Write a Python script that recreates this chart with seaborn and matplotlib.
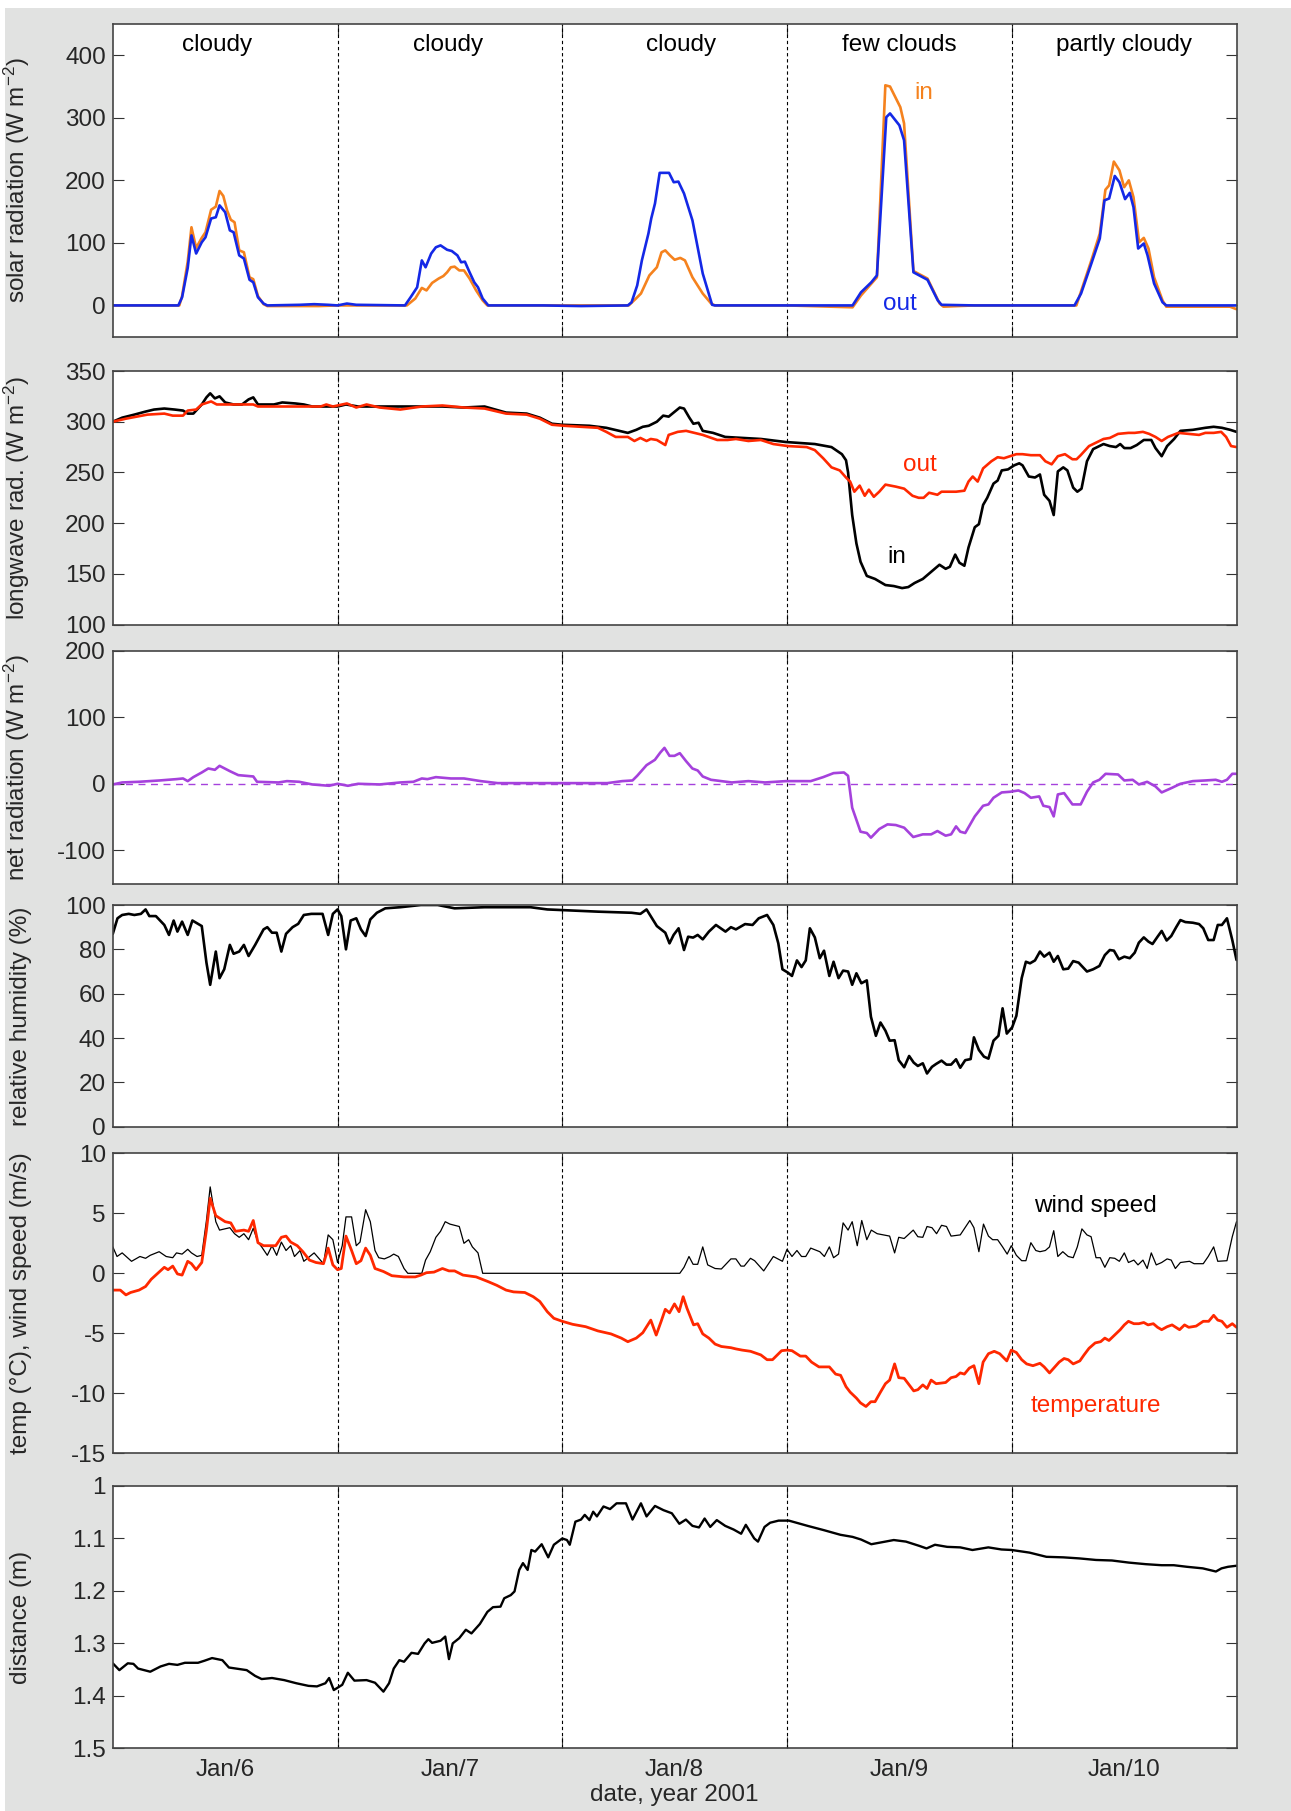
import matplotlib
matplotlib.use("Agg")
import matplotlib.pyplot as plt
import seaborn as sns
from matplotlib.patches import Rectangle
from matplotlib.ticker import FixedLocator, NullFormatter, FixedFormatter

# ---------------- data (time in hours since start of Jan 5/6 window) -------------
solar_in = [(0,0),(7.1,0),(7.4,15),(8,70),(8.4,125),(8.9,92),(9.5,108),(9.9,117),(10.5,153),(11,158),
            (11.4,183),(11.8,175),(12.2,152),(12.6,137),(13,133),(13.5,88),(14,85),(14.6,45),(15,42),
            (15.5,15),(16.1,2),(16.5,-1),(22,-1),(24,0),(31.4,0),(32.3,11),(33,28),(33.5,24),(34.1,36),
            (34.8,43),(35.3,47),(35.7,53),(36.1,61),(36.5,62),(37,56),(37.5,56),(38.1,43),(38.8,24),
            (39.5,8),(40,0),(55.1,0),(55.8,10),(56.4,19),(57.3,48),(58.1,61),(58.6,85),(59,88),(59.5,80),
            (60,73),(60.6,76),(61.1,72),(61.9,45),(63,19),(63.9,3),(64.3,0),(72,0),(79,-3),(79.9,16),
            (81.6,45),(82.5,352),(83,350),(84.1,317),(84.5,291),(85.5,55),(87,43),(88.3,3),(88.7,-2),
            (92,0),(102.9,0),(104.5,72),(105.4,115),(106,185),(106.4,192),(106.9,230),(107.5,216),
            (108,189),(108.5,200),(109,173),(109.6,101),(110.1,108),(110.6,91),(111.2,45),(112.1,8),
            (112.5,-2),(119.3,-2),(120,-6)]
solar_out = [(0,0),(7.0,0),(7.4,13),(8.0,60),(8.4,112),(8.9,83),(9.5,101),(9.9,109),(10.5,139),(11.0,141),
             (11.4,160),(12.0,149),(12.5,120),(12.9,117),(13.5,80),(14.0,75),(14.6,41),(15.0,37),
             (15.5,13),(16.1,3),(16.5,0),(20,1),(21.5,2),(23,1),(24,0),(25,3),(26,1),(31.2,0),(31.8,13),
             (32.5,29),(33.0,72),(33.4,61),(34.0,83),(34.5,93),(35.0,96),(35.7,89),(36.2,87),(36.8,80),
             (37.2,69),(37.6,70),(38.1,53),(38.6,37),(39.0,29),(39.5,11),(40.1,0),(46,0),(50,-1),(55.0,0),
             (55.4,5),(56.0,32),(56.5,72),(57.2,115),(57.5,139),(57.9,163),(58.4,212),(59.4,212),
             (59.9,197),(60.4,198),(61.0,179),(61.9,136),(63.0,51),(64.0,1),(64.3,0),(70,0),(79.0,0),
             (79.9,21),(81.0,37),(81.6,48),(82.6,301),(83.0,307),(84.0,288),(84.5,264),(85.5,53),
             (87.0,41),(88.1,8),(88.5,1),(92,0),(102.7,0),(103.4,19),(104.5,67),(105.4,107),(105.9,168),
             (106.4,171),(107.0,207),(107.5,197),(108.1,170),(108.6,180),(109.0,157),(109.5,91),
             (110.1,99),(110.5,80),(111.2,35),(112.1,5),(112.5,0),(120,0)]

lw_in = [(0,300),(1,304),(2.3,307),(3.5,310),(4.4,312),(5.5,313),(6.6,312),(7.5,311),(8,308),(8.6,308),
         (9.5,317),(10,324),(10.4,328),(10.9,323),(11.4,325),(12,319),(12.9,317),(13.8,317),(14.5,322),
         (15,324),(15.5,317),(17.2,317),(18.1,319),(19.5,318),(20.4,317),(21.3,315),(24,315),(24.9,317),
         (26.2,315),(28.5,315),(33,315),(35.2,315),(37.5,314),(39.7,315),(42,309),(44.2,308),(45.6,304),
         (46.9,298),(48,297),(50.9,296),(52.7,294),(55,289),(55.9,292),(56.6,295),(57.23,296),(58.1,300),
         (58.78,306),(59.36,305),(59.89,309),(60.55,314),(61.0,313),(61.57,304),(62.0,298),(62.55,299),
         (63.0,291),(64.1,289),(65.4,285),(67.4,284),(69.2,283),(71.87,280),(74.97,278),(76.75,275),
         (77.86,268),(78.3,262),(78.52,250),(78.96,208),(79.41,180),(79.85,162),(80.52,148),(81.4,145),
         (82.51,139),(83.4,138),(84.29,136),(84.95,137),(85.62,141),(86.5,145),(87.39,152),(88.28,159),
         (88.94,155),(89.39,157),(89.96,169),(90.41,161),(90.94,158),(91.38,176),(92.05,196),(92.49,199),
         (92.94,218),(93.38,225),(94.05,239),(94.49,242),(94.93,252),(95.6,253),(96.26,257),(96.8,259),
         (97.15,257),(97.82,246),(98.48,245),(99.01,248),(99.46,228),(100.03,222),(100.48,208),
         (100.92,251),(101.5,255),(101.94,252),(102.56,235),(103.0,231),(103.45,234),(104.03,261),
         (104.69,273),(105.8,278),(106.47,276),(107.13,275),(107.58,278),(108.02,274),(108.69,274),
         (109.35,277),(110.1,282),(110.9,282),(111.35,274),(112.01,266),(112.59,276),(113.34,283),
         (114.01,291),(115.34,292),(116.67,294),(117.56,295),(118.44,294),(119.33,292),(120,290)]
lw_out = [(0,300),(1.4,303),(3.7,307),(5.5,308),(6.4,306),(7.5,306),(8,311),(8.9,312),(9.5,317),(10.5,320),
          (11.1,317),(12.3,317),(14,317),(15,317),(15.5,315),(19.5,315),(22.2,315),(22.8,317),(23.5,315),
          (25,318),(26,314),(27.1,317),(28.5,314),(30.7,312),(33,315),(35.2,316),(37.5,314),(39.7,313),
          (42,308),(44.2,307),(45.6,303),(46.9,297),(48.2,296),(51.8,294),(52.7,290),(53.7,285),(55,285),
          (55.7,281),(56.34,284),(57.0,281),(57.45,283),(58.1,282),(59.0,277),(59.36,287),(60.33,290),
          (61.22,291),(62.11,289),(63.0,287),(64.55,282),(65.66,282),(66.54,283),(67.87,281),(69.2,282),
          (70.54,278),(72.09,276),(74.1,275),(74.97,272),(75.86,264),(76.75,255),(77.63,252),(78.3,245),
          (78.74,241),(79.19,231),(79.76,237),(80.3,227),(80.74,233),(81.27,226),(81.85,231),(82.51,238),
          (83.62,236),(84.51,234),(85.4,227),(86.06,225),(86.59,225),(87.17,230),(88.06,228),(88.5,231),
          (90.05,231),(90.94,232),(91.38,241),(91.83,246),(92.36,241),(92.94,254),(93.82,261),(94.49,265),
          (95.16,264),(95.82,266),(96.49,268),(97.15,268),(98.04,267),(99.01,267),(99.59,261),(100.26,258),
          (100.92,266),(101.68,268),(102.48,263),(102.92,263),(103.36,267),(104.25,276),(105.14,280),
          (105.8,283),(106.47,284),(107.35,288),(108.46,289),(109.13,289),(110.01,290),(110.68,288),
          (111.35,285),(112.01,281),(112.68,285),(113.79,289),(114.9,288),(116.0,287),(116.67,289),
          (117.56,289),(118.36,290),(118.89,285),(119.42,276),(120,275)]

net_rad = [(0,-1),(1,2),(2.8,3),(5,5),(6.8,7),(7.5,8),(8,4),(8.6,10),(9.5,17),(10.2,23),(10.9,21),(11.4,27),
           (12.5,19),(13.4,13),(15,11),(15.4,3),(17.7,2),(18.6,4),(19.9,3),(21.3,-1),(23.1,-3),(24,0),
           (25.1,-3),(26.2,0),(28.5,-1),(30.7,2),(32.1,3),(33,8),(33.6,7),(34.5,10),(36.1,8),(37.5,8),
           (39.3,4),(41.1,1),(46.5,1),(48,1),(52.8,1),(54.4,4),(55.5,5),(56.0,12),(57.0,28),(57.89,36),
           (58.47,47),(58.91,54),(59.45,42),(59.98,42),(60.55,46),(61.22,34),(61.89,23),(62.46,20),
           (63.0,11),(63.88,6),(66.1,2),(67.87,4),(69.65,2),(71.87,4),(74.53,4),(75.86,10),(76.97,16),
           (78.08,17),(78.52,12),(78.96,-36),(79.85,-72),(80.52,-74),(80.96,-81),(81.85,-68),(82.73,-61),
           (83.62,-62),(84.51,-66),(85.48,-80),(86.5,-76),(87.39,-76),(88.06,-71),(88.94,-78),(89.52,-76),
           (90.05,-64),(90.5,-72),(91.03,-74),(92.05,-49),(92.94,-33),(93.51,-31),(94.05,-21),(94.93,-13),
           (95.82,-12),(96.71,-10),(97.37,-14),(98.04,-21),(98.93,-19),(99.37,-33),(100.03,-35),
           (100.48,-49),(100.92,-16),(101.59,-14),(102.48,-31),(103.36,-31),(104.03,-12),(104.69,2),
           (105.36,6),(106.02,15),(107.35,14),(108.02,5),(108.91,6),(109.57,-1),(110.46,3),(111.35,-4),
           (112.01,-13),(113.12,-6),(114.01,0),(115.34,4),(116.67,5),(117.78,6),(118.44,3),(118.98,6),
           (119.55,15),(120,15)]

rel_hum = [(0,87),(0.5,94),(1,95.5),(1.7,96),(2.3,95.5),(3,96),(3.5,98),(3.9,95),(4.6,95),(5.5,91),(6,86.5),
           (6.5,93),(6.9,88),(7.4,92.5),(8,86.5),(8.5,93),(9.5,90.5),(10,74),(10.4,64),(11,79),(11.4,67),
           (11.9,71),(12.5,82),(12.9,78),(13.5,79),(14,82),(14.5,77),(15.2,82),(16.1,89),(16.5,90),(17,87.5),
           (17.5,87.5),(18,79),(18.5,87),(19.2,90),(19.8,91.5),(20.4,95.5),(21.2,96),(22.4,96),(23,86.5),
           (23.5,96),(24,98),(24.4,95),(24.9,80),(25.4,93),(26,94),(26.5,89),(27,86),(27.5,93.5),(28.2,96.5),
           (29.1,98.5),(30.7,99),(32.9,100),(34.7,100),(36.5,98.5),(39.7,99),(44.6,99),(46.4,98),(48,97.7),
           (51.8,97),(55.4,96.5),(56.34,96),(57.0,98),(58.1,90.5),(59.0,87.5),(59.45,82.7),(59.89,86.5),
           (60.42,89.5),(61.0,79.7),(61.44,85.7),(61.97,85.3),(62.46,86.5),(63.0,84.5),(63.66,88),(64.41,91),
           (65.43,88),(66.01,90),(66.54,89),(67.52,91.4),(68.32,91),(68.98,94),(69.87,95.5),(70.54,91),
           (71.07,82.7),(71.51,71),(72.09,69.5),(72.53,68),(73.06,75),(73.55,72),(74.0,75),(74.44,89.5),
           (74.97,85.4),(75.5,76),(75.95,79.4),(76.52,68),(76.97,74.4),(77.5,67),(77.99,70.4),(78.52,70),
           (78.96,64),(79.41,69.2),(79.94,64.7),(80.52,66),(80.96,49.6),(81.49,41),(81.98,47),(82.51,43.3),
           (82.96,38.8),(83.49,39),(83.93,30),(84.51,26.8),(85.04,31.9),(85.53,28.9),(85.97,27.4),(86.5,28.6),
           (86.95,24),(87.48,27),(87.92,28.3),(88.5,29.8),(89.03,28),(89.52,28),(90.05,30.4),(90.5,26.6),
           (91.03,30),(91.61,30.5),(91.96,40.3),(92.49,34.6),(93.03,31.6),(93.51,30.7),(94.05,38.8),
           (94.58,41),(95.02,53.4),(95.47,42),(96.04,44.8),(96.49,50),(97.06,67),(97.51,74.4),(97.95,73.7),
           (98.48,75),(99.01,79),(99.46,76.7),(100.03,78.5),(100.48,74.4),(100.92,77),(101.5,71),
           (102.03,71.3),(102.56,74.7),(103.14,74),(104.03,70),(104.69,71),(105.36,72.5),(105.94,77.4),
           (106.47,79.7),(106.91,79.4),(107.44,75.5),(108.02,76.7),(108.6,76),(109.13,78.5),(109.57,83),
           (110.1,85.4),(110.59,83.5),(111.03,82.4),(111.57,85.7),(112.01,88.3),(112.54,84),(113.03,86),
           (113.56,90),(114.01,93.2),(114.54,92.3),(115.34,92),(116.0,91.4),(116.45,89.5),(116.98,84.2),
           (117.56,84.2),(118.0,91),(118.44,91),(118.98,94),(119.55,84.2),(120,75.2)]

wind_speed = [(0,2.2),(0.45,1.4),(1,1.7),(2,1.0),(2.9,1.4),(3.5,1.25),(4,1.5),(4.95,1.8),(5.7,1.4),(6.4,1.3),
              (6.8,1.7),(7.4,1.6),(8,2.0),(8.4,1.7),(9,1.4),(9.5,1.5),(10,4.4),(10.4,7.2),(11,4.3),(11.4,3.6),
              (12.5,3.8),(13,3.3),(13.5,3.0),(14,3.3),(14.5,2.8),(15,3.75),(15.5,2.6),(15.9,2.2),(16.5,1.5),
              (17,2.3),(17.5,1.5),(18,2.6),(18.5,1.9),(19,2.3),(19.4,1.4),(20,1.9),(20.4,1.0),(21.5,1.7),
              (22.5,0.8),(23,3.2),(23.5,2.8),(24,0.9),(24.5,2.3),(24.9,4.7),(25.5,4.7),(26,2.3),(26.4,2.6),
              (27,5.3),(27.5,4.3),(28,1.9),(28.4,1.3),(29,1.2),(29.6,1.4),(30,1.6),(30.5,1.4),(31.1,0.4),
              (31.5,0),(33,0),(33.4,1.1),(33.9,1.8),(34.5,3.0),(35,3.5),(35.5,4.3),(36,4.1),(37,3.9),(37.5,2.5),
              (38,2.8),(38.4,2.2),(39,1.7),(39.5,0),(60.55,0),(61.0,0.5),(61.53,1.4),(61.97,0.75),(62.46,0.75),
              (63.0,2.2),(63.53,0.7),(64.32,0.4),(64.99,0.36),(66.01,1.2),(66.54,1.2),(67.08,0.6),(67.43,0.6),
              (68.1,1.25),(68.54,1.05),(69.51,0.2),(70.54,1.4),(71.51,1.0),(72.0,2.0),(72.53,1.4),(73.06,1.9),
              (73.55,1.4),(74.0,1.4),(74.53,2.1),(75.5,1.8),(75.99,1.4),(76.52,2.2),(76.97,1.3),(77.5,1.6),
              (77.99,4.2),(78.52,3.6),(78.96,4.3),(79.5,2.3),(79.98,4.4),(80.52,2.8),(81.0,3.6),(81.63,3.3),
              (82.96,3.1),(83.49,1.7),(83.93,3.0),(84.51,2.9),(85.48,3.6),(85.97,3.05),(86.5,3.0),(86.95,3.9),
              (87.48,3.8),(87.97,3.3),(88.5,4.0),(89.03,3.9),(89.52,3.1),(90.5,3.2),(91.52,4.4),(91.96,3.8),
              (92.49,1.8),(92.98,4.1),(93.51,3.1),(93.96,2.8),(94.49,2.8),(95.02,2.2),(95.51,1.6),(95.95,2.3),
              (96.49,1.5),(97.06,1.05),(97.51,1.05),(98.04,2.55),(98.57,1.9),(99.01,1.8),(99.59,1.9),
              (100.03,2.2),(100.48,3.55),(100.92,1.4),(101.45,1.8),(102.03,1.4),(102.56,1.3),(103.0,2.2),
              (103.49,3.7),(104.03,3.2),(104.47,3.05),(105.0,1.3),(105.45,1.3),(105.94,0.5),(106.47,1.3),
              (107.0,1.25),(107.49,1.0),(108.02,1.7),(108.46,0.9),(109.04,1.1),(109.48,0.7),(110.01,1.1),
              (110.46,0.4),(110.9,1.7),(111.43,0.7),(112.01,0.9),(112.59,1.2),(113.03,1.1),(113.47,0.4),
              (114.01,0.9),(114.98,1.0),(115.47,0.8),(116.45,0.8),(116.98,1.4),(117.56,2.2),(118.0,1.0),
              (118.98,1.05),(119.55,3.05),(120,4.3)]

temperature = [(0,-1.4),(0.8,-1.4),(1.4,-1.8),(1.9,-1.6),(2.8,-1.4),(3.5,-1.1),(4.1,-0.5),(4.8,0),(5.5,0.5),
               (5.9,0.3),(6.4,0.6),(6.9,-0.05),(7.4,-0.15),(8,1.0),(8.4,0.8),(8.9,0.3),(9.5,0.9),(10,3.6),
               (10.4,6.25),(11,4.8),(11.4,4.6),(12,4.3),(12.6,4.2),(13.1,3.5),(14,3.6),(14.5,3.5),(15,4.4),
               (15.5,2.55),(16.1,2.3),(16.7,2.3),(17.4,2.3),(18,3.0),(18.5,3.1),(19,2.6),(19.7,2.3),(20.3,1.8),
               (21,1.1),(21.7,0.9),(22.5,0.8),(23,2.1),(23.5,0.7),(24,0.3),(24.4,0.4),(24.9,3.1),(25.5,1.9),
               (26,0.8),(26.5,1.05),(27,2.1),(27.5,1.5),(28,0.4),(28.9,0.15),(29.8,-0.2),(31.1,-0.3),
               (32.3,-0.3),(32.9,-0.15),(33.5,0.05),(34.3,0.1),(35.2,0.4),(35.9,0.2),(36.5,0.2),(37.4,-0.15),
               (38.8,-0.3),(40.1,-0.7),(41,-1.0),(42,-1.4),(42.8,-1.55),(44,-1.6),(44.9,-1.95),(45.6,-2.35),
               (46.4,-3.2),(47.1,-3.75),(48,-4.0),(49.1,-4.25),(50.5,-4.45),(51.8,-4.8),(53.2,-5.05),
               (54.3,-5.4),(55.0,-5.7),(55.9,-5.4),(56.6,-4.95),(57.0,-4.45),(57.45,-3.9),(58.03,-5.15),
               (58.56,-4.0),(59.0,-3.0),(59.45,-3.3),(59.98,-2.55),(60.47,-3.2),(60.91,-1.95),(61.31,-2.9),
               (61.66,-3.6),(62.02,-4.3),(62.46,-4.2),(63.0,-5.05),(63.66,-5.4),(64.32,-5.9),(64.99,-6.1),
               (66.01,-6.2),(66.54,-6.3),(67.21,-6.4),(68.1,-6.5),(69.2,-6.8),(69.87,-7.2),(70.45,-7.2),
               (71.42,-6.45),(72.0,-6.4),(72.53,-6.45),(73.42,-6.9),(74.0,-6.9),(74.62,-7.4),(75.41,-7.8),
               (76.52,-7.8),(77.19,-8.4),(77.72,-8.5),(78.3,-9.45),(78.74,-9.9),(79.41,-10.4),(79.85,-10.8),
               (80.43,-11.1),(80.96,-10.7),(81.4,-10.7),(81.98,-9.9),(82.51,-9.2),(82.96,-8.9),(83.49,-7.55),
               (83.93,-8.7),(84.51,-8.75),(85.04,-9.3),(85.53,-9.8),(85.97,-9.7),(86.5,-9.3),(86.95,-9.6),
               (87.39,-8.9),(87.92,-9.2),(88.94,-9.1),(89.52,-8.7),(90.05,-8.6),(90.5,-8.3),(90.94,-8.4),
               (91.47,-7.9),(91.96,-7.7),(92.49,-9.2),(92.94,-7.4),(93.51,-6.7),(94.13,-6.5),(94.71,-6.7),
               (95.47,-7.3),(95.95,-6.4),(96.49,-6.6),(97.06,-7.2),(97.59,-7.55),(98.26,-7.7),(99.01,-7.5),
               (99.46,-7.8),(100.03,-8.3),(100.61,-7.8),(101.06,-7.4),(101.59,-7.1),(102.03,-7.2),
               (102.56,-7.55),(103.27,-7.3),(103.72,-6.8),(104.25,-6.25),(104.91,-5.8),(105.49,-5.7),
               (105.94,-5.4),(106.38,-5.6),(106.91,-5.2),(107.58,-4.7),(108.02,-4.3),(108.46,-4.0),
               (109.04,-4.2),(109.57,-4.2),(110.1,-4.1),(110.55,-4.3),(111.12,-4.2),(111.57,-4.5),
               (112.01,-4.7),(112.59,-4.45),(113.12,-4.3),(113.92,-4.7),(114.45,-4.3),(114.9,-4.5),
               (115.69,-4.4),(116.45,-4.0),(117.03,-4.0),(117.56,-3.5),(118.0,-3.9),(118.44,-4.0),
               (118.98,-4.5),(119.55,-4.2),(120,-4.5)]

distance = [(0,1.338),(0.7,1.351),(1.6,1.338),(2.2,1.339),(2.7,1.348),(4.0,1.354),(5.1,1.344),(6.0,1.339),
            (6.9,1.341),(7.7,1.337),(9.1,1.337),(9.8,1.333),(10.6,1.328),(11.7,1.332),(12.4,1.346),
            (13.5,1.349),(14.3,1.351),(15.2,1.362),(15.9,1.368),(17.0,1.366),(18.3,1.370),(19.6,1.376),
            (20.9,1.381),(21.8,1.382),(22.7,1.376),(23.1,1.366),(23.6,1.389),(24.5,1.379),(25.1,1.356),
            (25.8,1.371),(27.1,1.370),(28.0,1.375),(28.9,1.392),(29.5,1.376),(30.0,1.348),(30.6,1.332),
            (31.1,1.335),(31.9,1.318),(32.6,1.320),(33.3,1.300),(33.7,1.292),(34.1,1.299),(35.0,1.295),
            (35.5,1.287),(35.9,1.330),(36.3,1.300),(37.0,1.290),(37.7,1.274),(38.3,1.281),(39.2,1.263),
            (40.0,1.240),(40.6,1.231),(41.4,1.230),(41.8,1.214),(42.5,1.208),(42.9,1.201),(43.4,1.160),
            (43.8,1.147),(44.3,1.160),(44.7,1.122),(45.1,1.125),(45.8,1.111),(46.5,1.136),(47.1,1.112),
            (48.0,1.100),(48.5,1.103),(48.8,1.112),(49.4,1.068),(50.0,1.064),(50.4,1.055),(50.9,1.065),
            (51.3,1.049),(51.7,1.058),(52.4,1.039),(53.1,1.044),(53.8,1.033),(54.8,1.033),(55.5,1.064),
            (56.4,1.033),(57.0,1.058),(57.9,1.038),(58.8,1.046),(59.7,1.052),(60.5,1.072),(61.2,1.064),
            (61.9,1.076),(62.6,1.079),(63.2,1.062),(63.8,1.078),(64.5,1.065),(65.4,1.076),(66.3,1.083),
            (67.1,1.091),(67.6,1.074),(68.5,1.100),(68.9,1.106),(69.6,1.078),(70.2,1.070),(71.1,1.066),
            (72.2,1.066),(74.2,1.076),(75.9,1.084),(77.7,1.093),(79.0,1.097),(79.9,1.102),(81.0,1.111),
            (82.5,1.106),(83.4,1.103),(84.7,1.106),(86.1,1.114),(86.9,1.119),(87.8,1.112),(89.1,1.116),
            (90.5,1.117),(91.8,1.122),(93.5,1.117),(94.9,1.121),(96.0,1.122),(97.9,1.127),(99.7,1.135),
            (101.5,1.136),(103.2,1.138),(105.0,1.141),(106.7,1.142),(108.5,1.146),(110.3,1.149),
            (112.0,1.151),(113.3,1.151),(114.7,1.154),(116.4,1.157),(117.8,1.163),(118.4,1.157),
            (119.1,1.154),(120,1.152)]

day_bounds = [24, 48, 72, 96]
day_label_hours = [12, 36, 60, 84, 108]
day_labels = ['Jan/6', 'Jan/7', 'Jan/8', 'Jan/9', 'Jan/10']
sky_labels = ['cloudy', 'cloudy', 'cloudy', 'few clouds', 'partly cloudy']
sky_hours = [11.1, 35.8, 60.7, 84.0, 108.0]
dist_ticks = [1.0, 1.1, 1.2, 1.3, 1.4, 1.5]
dist_ticklabels = ['1', '1.1', '1.2', '1.3', '1.4', '1.5']

# ---------------- style -------------------------------------------------------
sns.set_theme(style="ticks")
plt.rcParams['font.family'] = ['Liberation Sans', 'DejaVu Sans']
plt.rcParams['mathtext.fontset'] = 'custom'
plt.rcParams['mathtext.rm'] = 'Liberation Sans'
plt.rcParams['mathtext.it'] = 'Liberation Sans:italic'
plt.rcParams['mathtext.bf'] = 'Liberation Sans:bold'
plt.rcParams['axes.unicode_minus'] = False

FS = 17.5
C_ORANGE = '#f5821e'
C_BLUE = '#1428e6'
C_RED = '#ff2800'
C_PURPLE = '#a541dc'
C_GREY_BG = '#e1e2e1'

fig = plt.figure(figsize=(12.91, 18.11), dpi=100)
fig.patch.set_facecolor('white')
fig.patches.append(Rectangle((5 / 1291, 0), 1, 1 - 8 / 1811, transform=fig.transFigure,
                             facecolor=C_GREY_BG, edgecolor='none', zorder=-10))

L = 112.8 / 1291
W = 1123.7 / 1291
boxes = [(24, 336.7), (371, 624.6), (650.7, 883.6), (905, 1126.7), (1153.3, 1453.3), (1486, 1748.3)]
axes = [fig.add_axes([L, 1 - b / 1811, W, (b - t) / 1811]) for t, b in boxes]


def line(ax, series, color, lw):
    t = [p[0] for p in series]
    v = [p[1] for p in series]
    sns.lineplot(x=t, y=v, ax=ax, color=color, linewidth=lw, estimator=None, sort=False, legend=False)


def style(ax, ylim, yticks, ylabel, yticklabels=None):
    ax.set_facecolor('white')
    ax.set_xlim(0, 120)
    ax.set_ylim(*ylim)
    ax.yaxis.set_major_locator(FixedLocator(yticks))
    if yticklabels is not None:
        ax.yaxis.set_major_formatter(FixedFormatter(yticklabels))
    ax.xaxis.set_major_locator(FixedLocator(day_bounds))
    ax.xaxis.set_major_formatter(NullFormatter())
    ax.xaxis.set_minor_locator(FixedLocator(day_label_hours))
    ax.xaxis.set_minor_formatter(NullFormatter())
    ax.tick_params(axis='both', which='major', direction='in', length=8, width=0.8,
                   color='#333333', top=True, right=True, labelsize=FS, pad=5)
    ax.tick_params(axis='x', which='minor', length=0, pad=8, labelsize=FS)
    for s in ax.spines.values():
        s.set_color('#444444')
        s.set_linewidth(1.2)
    for d in day_bounds:
        ax.axvline(d, color='black', lw=0.8, ls=(0, (3, 2.5)), zorder=1)
    ax.set_xlabel('')
    ax.set_ylabel(ylabel, fontsize=FS)
    ax.yaxis.set_label_coords(-0.072, 0.5)


# panel 1: solar radiation
ax = axes[0]
line(ax, solar_in, C_ORANGE, 1.9)
line(ax, solar_out, C_BLUE, 1.9)
style(ax, (-50, 450), [0, 100, 200, 300, 400], 'solar radiation (W m$^{-2}$)')
for h, s in zip(sky_hours, sky_labels):
    ax.text(h, 416, s, ha='center', va='center', fontsize=FS, color='black')
ax.text(86.6, 340, 'in', ha='center', va='center', fontsize=FS, color=C_ORANGE)
ax.text(84.0, 2.3, 'out', ha='center', va='center', fontsize=FS, color=C_BLUE)

# panel 2: longwave
ax = axes[1]
line(ax, lw_in, 'black', 1.9)
line(ax, lw_out, C_RED, 1.9)
style(ax, (100, 350), [100, 150, 200, 250, 300, 350], 'longwave rad. (W m$^{-2}$)')
ax.text(86.15, 257, 'out', ha='center', va='center', fontsize=FS, color=C_RED)
ax.text(83.75, 167, 'in', ha='center', va='center', fontsize=FS, color='black')

# panel 3: net radiation
ax = axes[2]
ax.axhline(0, color=C_PURPLE, lw=1.0, ls=(0, (5, 4)), zorder=1)
line(ax, net_rad, C_PURPLE, 1.9)
style(ax, (-150, 200), [-100, 0, 100, 200], 'net radiation (W m$^{-2}$)')

# panel 4: relative humidity
ax = axes[3]
line(ax, rel_hum, 'black', 1.9)
style(ax, (0, 100), [0, 20, 40, 60, 80, 100], 'relative humidity (%)')

# panel 5: temperature and wind speed
ax = axes[4]
line(ax, wind_speed, 'black', 0.9)
line(ax, temperature, C_RED, 2.0)
style(ax, (-15, 10), [-15, -10, -5, 0, 5, 10], 'temp (°C), wind speed (m/s)')
ax.text(104.9, 5.63, 'wind speed', ha='center', va='center', fontsize=FS, color='black')
ax.text(105.0, -11.04, 'temperature', ha='center', va='center', fontsize=FS, color=C_RED)

# panel 6: distance
ax = axes[5]
line(ax, distance, 'black', 1.7)
style(ax, (1.5, 1.0), dist_ticks, 'distance (m)', dist_ticklabels)
ax.xaxis.set_minor_formatter(FixedFormatter(day_labels))
ax.set_xlabel('date, year 2001', fontsize=FS, labelpad=2)

fig.savefig('out.png', dpi=100, facecolor=fig.get_facecolor())
